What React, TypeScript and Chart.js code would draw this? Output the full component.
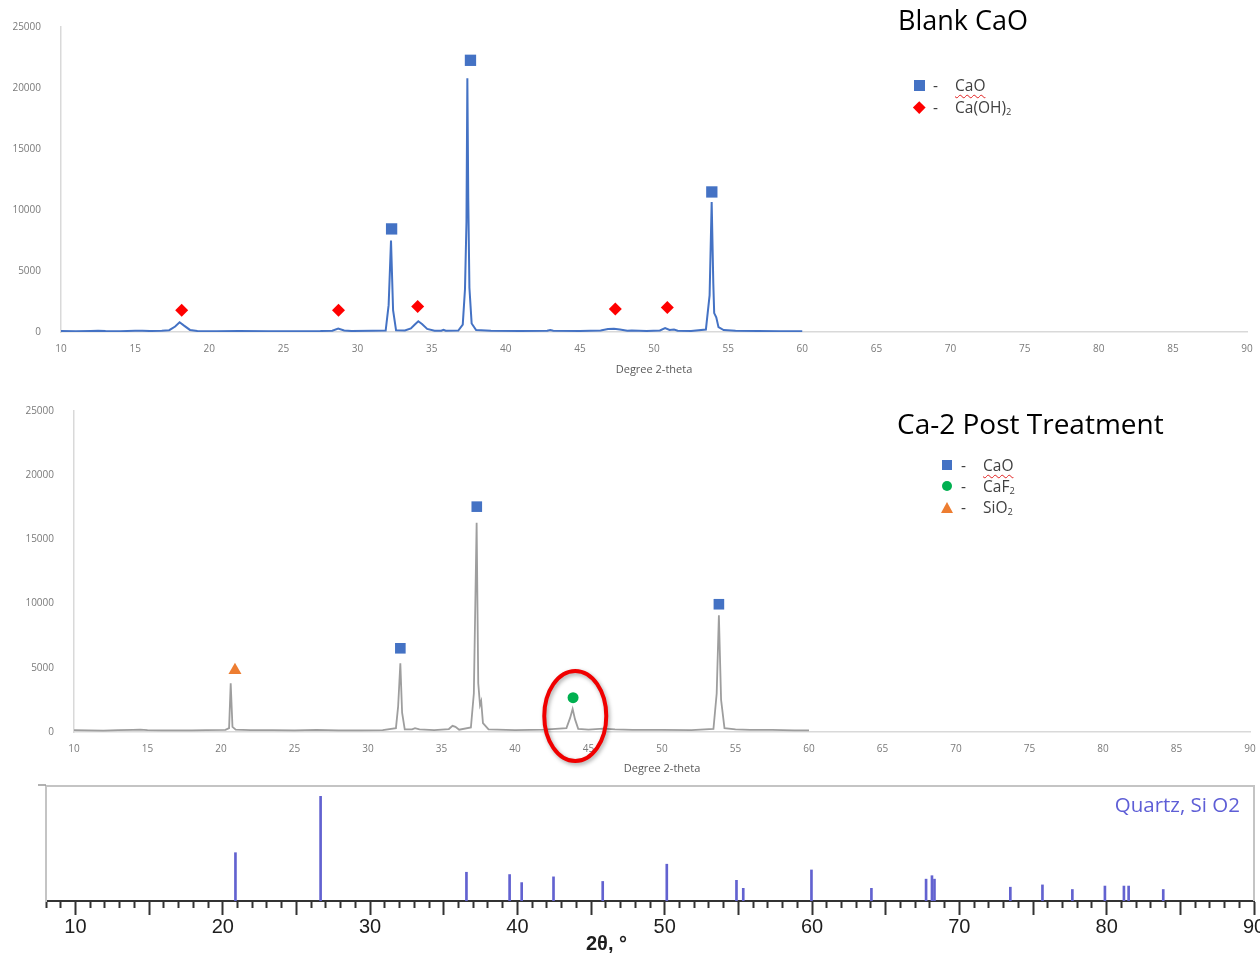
import React, { useEffect, useRef } from "react";
import { Chart, registerables } from "chart.js";

Chart.register(...registerables);

// ---------------- Blank CaO (top panel) ----------------
const blankTheta = [
  10.0, 11.0, 12.0, 12.5, 13.0, 14.0, 15.0, 15.5, 16.0, 16.8, 17.3, 17.7, 18.0, 18.3, 18.7, 19.2,
  20.5, 22.0, 24.0, 26.0, 27.5, 28.3, 28.7, 29.1, 29.6, 31.0, 31.9, 32.1, 32.26, 32.4, 32.6, 33.2,
  33.6, 33.85, 34.1, 34.35, 34.7, 35.2, 35.65, 35.8, 35.95, 36.8, 37.1, 37.25, 37.35, 37.41, 37.47,
  37.55, 37.7, 38.0, 39.0, 41.0, 42.8, 43.0, 43.2, 45.0, 46.4, 46.9, 47.3, 47.7, 48.2, 48.5, 49.5,
  50.4, 50.75, 51.05, 51.35, 51.6, 52.5, 53.5, 53.75, 53.89, 54.0, 54.06, 54.2, 54.35, 54.7, 55.5,
  57.0, 58.5, 60.0,
];
const blankCounts = [
  80, 70, 90, 110, 80, 70, 100, 110, 80, 100, 150, 450, 800, 520, 170, 90,
  70, 80, 70, 70, 80, 110, 280, 120, 80, 110, 120, 2200, 7500, 1800, 150, 120,
  300, 600, 880, 650, 250, 110, 100, 180, 100, 120, 600, 3500, 9000, 20800, 11000,
  3600, 700, 160, 100, 90, 100, 170, 100, 90, 120, 240, 260, 200, 110, 130, 90,
  130, 330, 170, 200, 110, 90, 200, 3000, 10650, 4000, 1550, 1200, 400, 160, 100,
  90, 70, 60,
];
const blankCaOTheta = [32.3, 37.62, 53.9];
const blankCaOMark = [8450, 22270, 11480];
const blankCaOHTheta = [18.14, 28.72, 34.06, 47.39, 50.9];
const blankCaOHMark = [1780, 1780, 2100, 1890, 2000];

// ---------------- Ca-2 Post Treatment (middle panel) ----------------
const postTheta = [
  10.0, 11.0, 12.0, 13.0, 14.0, 14.5, 15.0, 16.0, 17.0, 18.0, 19.0, 20.3, 20.55, 20.66, 20.78, 21.0,
  22.0, 23.5, 25.0, 26.5, 28.0, 29.5, 31.0, 31.9, 32.05, 32.2, 32.32, 32.5, 33.0, 33.2, 33.5, 34.5,
  35.5, 35.75, 35.95, 36.2, 37.0, 37.2, 37.39, 37.5, 37.62, 37.7, 37.82, 38.2, 40.0, 42.0, 43.5,
  43.75, 43.92, 44.08, 44.3, 45.0, 46.0, 46.8, 48.0, 50.0, 52.0, 53.5, 53.72, 53.87, 54.02, 54.25,
  55.0, 56.0, 57.5, 59.0, 60.0,
];
const postCounts = [
  150, 120, 110, 140, 170, 190, 140, 120, 130, 120, 140, 170, 300, 3800, 400, 180,
  140, 150, 120, 160, 120, 130, 140, 300, 2000, 5350, 1500, 200, 200, 300, 200, 150,
  230, 480, 400, 180, 350, 3000, 16300, 3800, 2100, 2400, 700, 200, 150, 180, 300,
  1100, 1800, 1000, 250, 180, 260, 200, 170, 160, 150, 250, 3000, 9100, 2500, 300,
  200, 170, 160, 130, 120,
];
const postCaOTheta = [32.2, 37.4, 53.87];
const postCaOMark = [6520, 17550, 9950];
const postCaF2Theta = [43.95];
const postCaF2Mark = [2670];
const postSiO2Theta = [20.95];
const postSiO2Mark = [4800];
const highlightTheta = [44.1];
const highlightCounts = [1250];

// ---------------- Quartz reference pattern (bottom panel) ----------------
const quartzTheta = [
  20.86, 26.64, 36.54, 39.47, 40.29, 42.45, 45.79, 50.14, 54.87, 55.33, 59.96, 64.03, 67.74, 68.14,
  68.31, 73.46, 75.64, 77.67, 79.88, 81.17, 81.49, 83.84,
];
const quartzIntensity = [42, 91, 25, 23, 16, 21, 17, 32, 18, 11, 27, 11, 19, 22, 19, 12, 14, 10, 13, 13, 13, 10];

// ---------------- Tick labels ----------------
const countTicks = [0, 5000, 10000, 15000, 20000, 25000];
const thetaTicks = [10, 15, 20, 25, 30, 35, 40, 45, 50, 55, 60, 65, 70, 75, 80, 85, 90];
const refThetaLabels = [10, 20, 30, 40, 50, 60, 70, 80, 90];

const pts = (xs: number[], ys: number[]) => xs.map((x, i) => ({ x, y: ys[i] }));

const SANS = "'Open Sans', 'DejaVu Sans', sans-serif";
const ARIAL = "'Liberation Sans', Arial, sans-serif";

const frame = {
  id: "frame",
  afterDraw(chart: any) {
    const { ctx, chartArea: a } = chart;
    ctx.save();
    ctx.strokeStyle = "#C4C4C4";
    ctx.lineWidth = 2;
    ctx.beginPath();
    ctx.moveTo(a.left, a.top);
    ctx.lineTo(a.right, a.top);
    ctx.lineTo(a.right, a.bottom);
    ctx.stroke();
    ctx.strokeStyle = "#999";
    ctx.lineWidth = 1.5;
    ctx.beginPath();
    ctx.moveTo(a.left - 8, a.top - 1);
    ctx.lineTo(a.left, a.top - 1);
    ctx.stroke();
    ctx.restore();
  },
};

const highlight = {
  id: "highlight",
  afterDatasetsDraw(chart: any) {
    const { ctx } = chart;
    const xs = chart.scales.x;
    const ys = chart.scales.y;
    ctx.save();
    highlightTheta.forEach((t, i) => {
      const cx = xs.getPixelForValue(t);
      const cy = ys.getPixelForValue(highlightCounts[i]);
      ctx.shadowColor = "rgba(0,0,0,0.35)";
      ctx.shadowBlur = 4;
      ctx.shadowOffsetX = 1.5;
      ctx.shadowOffsetY = 2;
      ctx.strokeStyle = "#F00000";
      ctx.lineWidth = 4;
      ctx.beginPath();
      ctx.ellipse(cx, cy, 31, 45, 0, 0, Math.PI * 2);
      ctx.stroke();
    });
    ctx.restore();
  },
};

function xrdOptions(opts: {
  padTop: number;
  padRight: number;
  yWidth: number;
  xHeight: number;
  labelPad: number;
  titlePadBottom: number;
}) {
  return {
    animation: false,
    responsive: false,
    events: [],
    layout: { padding: { top: opts.padTop, right: opts.padRight, left: 0, bottom: 0 } },
    plugins: { legend: { display: false }, tooltip: { enabled: false } },
    scales: {
      x: {
        type: "linear",
        min: 10,
        max: 90,
        afterBuildTicks: (s: any) => {
          s.ticks = thetaTicks.map((v) => ({ value: v }));
        },
        afterFit: (s: any) => {
          s.height = opts.xHeight;
          s.paddingLeft = 0;
          s.paddingRight = 0;
        },
        grid: { display: false },
        border: { display: true, color: "#D9D9D9", width: 1.5 },
        ticks: {
          autoSkip: false,
          maxRotation: 0,
          padding: opts.labelPad,
          color: "#7A7A7A",
          font: { family: SANS, size: 10 },
          callback: (v: any) => String(v),
        },
        title: {
          display: true,
          text: "Degree 2-theta",
          color: "#595959",
          font: { family: SANS, size: 11 },
          padding: { top: 0, bottom: opts.titlePadBottom },
        },
      },
      y: {
        min: 0,
        max: 25000,
        afterBuildTicks: (s: any) => {
          s.ticks = countTicks.map((v) => ({ value: v }));
        },
        afterFit: (s: any) => {
          s.width = opts.yWidth;
        },
        grid: { display: false },
        border: { display: true, color: "#D9D9D9", width: 1.5 },
        ticks: {
          padding: 12,
          color: "#7A7A7A",
          font: { family: SANS, size: 10 },
          callback: (v: any) => String(v),
        },
      },
    },
  };
}

function ChartCanvas({ top, height, config }: { top: number; height: number; config: () => any }) {
  const ref = useRef<HTMLCanvasElement | null>(null);
  useEffect(() => {
    const chart = new Chart(ref.current as HTMLCanvasElement, config());
    return () => chart.destroy();
  }, []);
  return (
    <div style={{ position: "absolute", left: 0, top, width: 1260, height }}>
      <canvas ref={ref} width={1260} height={height} style={{ display: "block" }} />
    </div>
  );
}

const blankConfig = () => ({
  type: "line",
  data: {
    datasets: [
      {
        type: "scatter",
        data: pts(blankCaOTheta, blankCaOMark),
        pointStyle: "rect",
        pointRadius: 8,
        backgroundColor: "#4472C4",
        borderColor: "#4472C4",
        borderWidth: 0,
      },
      {
        type: "scatter",
        data: pts(blankCaOHTheta, blankCaOHMark),
        pointStyle: "rectRot",
        pointRadius: 6.5,
        backgroundColor: "#FF0000",
        borderColor: "#FF0000",
        borderWidth: 0,
      },
      {
        type: "line",
        data: pts(blankTheta, blankCounts),
        borderColor: "#4472C4",
        borderWidth: 2,
        pointRadius: 0,
        tension: 0,
      },
    ],
  },
  options: xrdOptions({ padTop: 27, padRight: 13, yWidth: 61, xHeight: 53, labelPad: 3, titlePadBottom: 9 }),
});

const postConfig = () => ({
  type: "line",
  data: {
    datasets: [
      {
        type: "scatter",
        data: pts(postCaOTheta, postCaOMark),
        pointStyle: "rect",
        pointRadius: 7.5,
        backgroundColor: "#4472C4",
        borderColor: "#4472C4",
        borderWidth: 0,
      },
      {
        type: "scatter",
        data: pts(postCaF2Theta, postCaF2Mark),
        pointStyle: "circle",
        pointRadius: 5.5,
        backgroundColor: "#00B050",
        borderColor: "#00B050",
        borderWidth: 0,
      },
      {
        type: "scatter",
        data: pts(postSiO2Theta, postSiO2Mark),
        pointStyle: "triangle",
        pointRadius: 7.5,
        backgroundColor: "#ED7D31",
        borderColor: "#ED7D31",
        borderWidth: 0,
      },
      {
        type: "line",
        data: pts(postTheta, postCounts),
        borderColor: "#9E9E9E",
        borderWidth: 1.8,
        pointRadius: 0,
        tension: 0,
      },
    ],
  },
  options: xrdOptions({ padTop: 26, padRight: 10, yWidth: 74, xHeight: 48, labelPad: 3, titlePadBottom: 5 }),
  plugins: [highlight],
});

const quartzConfig = () => ({
  type: "bar",
  data: {
    datasets: [
      {
        data: pts(quartzTheta, quartzIntensity),
        backgroundColor: "#6262D0",
        borderWidth: 0,
        barThickness: 2,
      },
    ],
  },
  options: {
    animation: false,
    responsive: false,
    events: [],
    layout: { padding: { top: 6, right: 6, left: 0, bottom: 0 } },
    plugins: { legend: { display: false }, tooltip: { enabled: false } },
    scales: {
      x: {
        type: "linear",
        min: 8,
        max: 90,
        offset: false,
        afterFit: (s: any) => {
          s.height = 52;
          s.paddingLeft = 0;
          s.paddingRight = 0;
        },
        grid: {
          display: true,
          offset: false,
          drawOnChartArea: false,
          drawTicks: true,
          tickLength: 14,
          tickWidth: 2,
          tickColor: "#333333",
          tickBorderDash: (c: any) => (c.tick && c.tick.value % 5 === 0 ? [] : [6, 100]),
        },
        border: { display: true, color: "#333333", width: 2 },
        ticks: {
          stepSize: 1,
          autoSkip: false,
          maxRotation: 0,
          padding: 0,
          color: "#1E1E1E",
          font: { family: ARIAL, size: 20 },
          callback: (v: any) => (refThetaLabels.includes(Number(v)) ? String(v) : ""),
        },
      },
      y: {
        min: 0,
        max: 100,
        afterFit: (s: any) => {
          s.width = 46;
        },
        grid: { display: false },
        border: { display: true, color: "#C4C4C4", width: 2 },
        ticks: { display: false },
      },
    },
  },
  plugins: [frame],
});

const legendText: React.CSSProperties = {
  position: "absolute",
  fontFamily: SANS,
  fontSize: 15.5,
  lineHeight: "18px",
  color: "#404040",
  whiteSpace: "nowrap",
};

const wavy: React.CSSProperties = {
  textDecorationLine: "underline",
  textDecorationStyle: "wavy",
  textDecorationColor: "#E02020",
  textDecorationThickness: "1px",
  textUnderlineOffset: "3px",
};

const Sub = ({ children }: { children: React.ReactNode }) => (
  <sub style={{ fontSize: "0.6em", verticalAlign: "-0.25em" }}>{children}</sub>
);

function LegendRow({
  left,
  top,
  marker,
  label,
}: {
  left: number;
  top: number;
  marker: React.ReactNode;
  label: React.ReactNode;
}) {
  return (
    <>
      <div style={{ position: "absolute", left, top, width: 14, height: 18, display: "flex", alignItems: "center", justifyContent: "center" }}>
        {marker}
      </div>
      <div style={{ ...legendText, left: left + 21, top }}>-</div>
      <div style={{ ...legendText, left: left + 43, top }}>{label}</div>
    </>
  );
}

const Square = ({ size }: { size: number }) => (
  <div style={{ width: size, height: size, background: "#4472C4" }} />
);
const Diamond = () => (
  <div style={{ width: 8.5, height: 8.5, background: "#FF0000", transform: "rotate(45deg)" }} />
);
const Dot = () => <div style={{ width: 10, height: 10, borderRadius: "50%", background: "#00B050" }} />;
const Tri = () => (
  <div
    style={{
      width: 0,
      height: 0,
      borderLeft: "6px solid transparent",
      borderRight: "6px solid transparent",
      borderBottom: "11px solid #ED7D31",
    }}
  />
);

export default function App() {
  return (
    <div
      style={{
        position: "absolute",
        left: 0,
        top: 0,
        width: 1260,
        height: 953,
        overflow: "hidden",
        background: "#FFFFFF",
      }}
    >
      <ChartCanvas top={0} height={385} config={blankConfig} />
      <ChartCanvas top={385} height={395} config={postConfig} />
      <ChartCanvas top={780} height={173} config={quartzConfig} />

      {/* Blank CaO title + legend */}
      <div style={{ position: "absolute", left: 898, top: 6, fontFamily: SANS, fontSize: 27, lineHeight: "27px", color: "#000" }}>
        Blank CaO
      </div>
      <LegendRow left={912} top={76} marker={<Square size={11} />} label={<span style={wavy}>CaO</span>} />
      <LegendRow
        left={912}
        top={98}
        marker={<Diamond />}
        label={
          <span>
            Ca(OH)<Sub>2</Sub>
          </span>
        }
      />

      {/* Ca-2 Post Treatment title + legend */}
      <div style={{ position: "absolute", left: 897, top: 409, fontFamily: SANS, fontSize: 28, lineHeight: "28px", color: "#000" }}>
        Ca-2 Post Treatment
      </div>
      <LegendRow left={940} top={456} marker={<Square size={10.5} />} label={<span style={wavy}>CaO</span>} />
      <LegendRow
        left={940}
        top={477}
        marker={<Dot />}
        label={
          <span>
            CaF<Sub>2</Sub>
          </span>
        }
      />
      <LegendRow
        left={940}
        top={498}
        marker={<Tri />}
        label={
          <span>
            SiO<Sub>2</Sub>
          </span>
        }
      />

      {/* Quartz reference annotations */}
      <div
        style={{
          position: "absolute",
          right: 20,
          top: 791,
          fontFamily: SANS,
          fontSize: 20.5,
          lineHeight: "26px",
          color: "#5E5ED6",
          whiteSpace: "nowrap",
        }}
      >
        Quartz, Si O2
      </div>
      <div
        style={{
          position: "absolute",
          left: 586,
          top: 932,
          fontFamily: ARIAL,
          fontWeight: "bold",
          fontSize: 20,
          lineHeight: "22px",
          color: "#1E1E1E",
          whiteSpace: "nowrap",
        }}
      >
        2θ, °
      </div>
    </div>
  );
}
